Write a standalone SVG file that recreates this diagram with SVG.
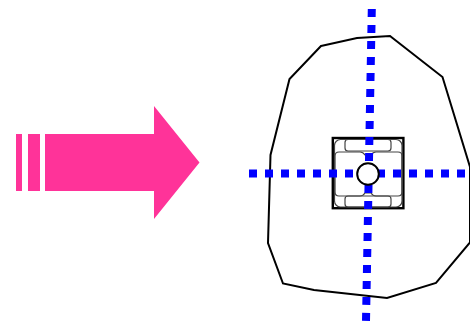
<svg xmlns="http://www.w3.org/2000/svg" width="470" height="323" viewBox="0 0 470 323">
<style>
.body{fill:#fff;stroke:#000;stroke-width:2;stroke-linejoin:miter}
.axis{fill:none;stroke:#00f;stroke-width:8;stroke-dasharray:8 8}
.part{fill:none;stroke:#444;stroke-width:1.2}
.pink{fill:#ff3399}
</style>
<g id="arrow">
<rect class="pink" x="16" y="134" width="6" height="57"/>
<rect class="pink" x="28" y="134" width="12" height="57"/>
<polygon class="pink" points="45,134 154,134 154,106 199.5,162.5 154,219 154,191 45,191"/>
</g>
<g id="outline">
<polygon class="body" points="321,46 357,38 390,36 442.5,77 470,167 470,242.5 436,283 387,298 314,290 283,283.5 268,243 270.5,155 289.5,79"/>
</g>
<g id="chip">
<rect x="332.8" y="138" width="70.6" height="70.2" fill="#fff" stroke="#000" stroke-width="2.4"/>
<rect class="part" x="334.5" y="139.5" width="67.5" height="67.5" rx="6" fill="#f4f4f4"/>
<rect class="part" x="345" y="139.5" width="46" height="11.5" rx="3" fill="#fff"/>
<rect class="part" x="345" y="196" width="46" height="11" rx="3" fill="#fff"/>
<path class="part" fill="#fff" d="M335,156 Q335,152 339,152 H360 Q363,152 365,155 H371 Q373,152 376,152 H398 Q402,152 402,156 V192 Q402,196 398,196 H376 Q373,196 371,193 H365 Q363,196 360,196 H339 Q335,196 335,192 Z"/>
</g>
<g id="connectors">
<line class="axis" x1="371.8" y1="9" x2="366" y2="321"/>
<line class="axis" x1="249" y1="173.5" x2="470" y2="173.5"/>
</g>
<g id="hub">
<circle cx="368" cy="174" r="10.8" fill="#fff" stroke="#000" stroke-width="2"/>
</g>
</svg>
